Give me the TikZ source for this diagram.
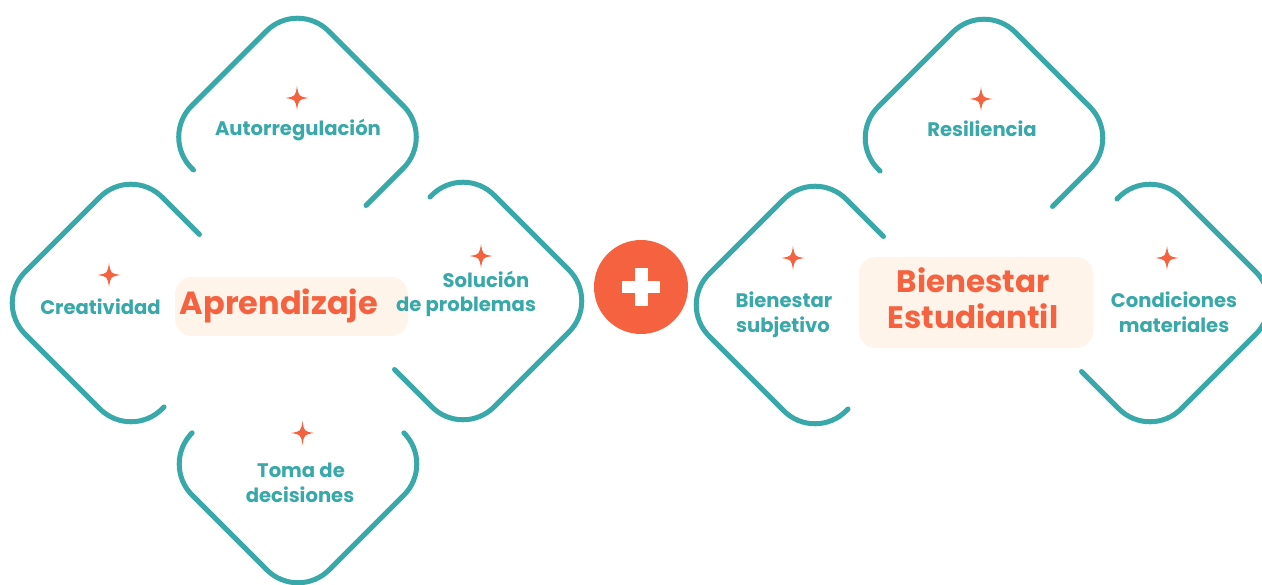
\documentclass[tikz,border=0pt]{standalone}
\usepackage{fontspec}
\setmainfont{Poppins}
\definecolor{teal1}{HTML}{38A8A9}
\definecolor{orng}{HTML}{F4623F}
\definecolor{peach}{HTML}{FFF4EA}
\tikzset{
  dia/.style={draw=teal1, line width=5pt, line cap=round, line join=round, rounded corners=44pt},
  lbl/.style={text=teal1, font=\fontsize{19.6}{25}\selectfont\bfseries, anchor=base, inner sep=0pt},
  ttl/.style={text=orng, font=\fontsize{31}{35}\selectfont\bfseries, anchor=base, inner sep=0pt},
  titlebox/.style={fill=peach, draw=none, rounded corners=17pt},
  sparkle/.pic={\fill[orng] (0,-12) .. controls (1.6,-1.6) .. (11.5,0) .. controls (1.6,1.6) .. (0,12) .. controls (-1.6,1.6) .. (-11.5,0) .. controls (-1.6,-1.6) .. cycle;}
}
\begin{document}
\begin{tikzpicture}[x=1pt, y=-1pt]
\useasboundingbox (0,0) rectangle (1262,585);
\clip (0,0) rectangle (1262,585);
\fill[white] (0,0) rectangle (1262,585);

% ---------- left cluster: Aprendizaje ----------
\draw[dia, shift={(297.5,137)}] (-104,33) -- (-137,0) -- (0,-137) -- (137,0) -- (68.5,68.5);
\draw[dia, shift={(131,303)}] (33,104) -- (0,137) -- (-137,0) -- (0,-137) -- (68.5,-68.5);
\draw[dia, shift={(463,301)}] (-33,-104) -- (0,-137) -- (137,0) -- (0,137) -- (-68.5,68.5);
\draw[dia, shift={(298,464)}] (-108,-29) -- (-137,0) -- (0,137) -- (137,0) -- (108,-29);

\fill[titlebox] (175,277) rectangle (408,336);
\node[ttl, font=\fontsize{32}{35}\selectfont\bfseries] (apr) at (279,315) {Aprendizaje};

\pic (s1) at (297,98) {sparkle};
\node[lbl] (auto) at (298,136) {Autorregulación};
\pic (s2) at (109,275) {sparkle};
\node[lbl] (crea) at (100.5,315) {Creatividad};
\pic (s3) at (481,256) {sparkle};
\node[lbl] (sol1) at (486,288) {Solución};
\node[lbl] (sol2) at (466,312) {de problemas};
\pic (s4) at (302.5,433) {sparkle};
\node[lbl] (toma1) at (301,477) {Toma de};
\node[lbl] (toma2) at (300,502) {decisiones};

% ---------- plus ----------
\node[circle, fill=orng, minimum size=94pt, inner sep=0pt] (plus) at (641,287) {};
\fill[white] (622,281) rectangle (660,293.5);
\fill[white] (635,268) rectangle (647.5,306);

% ---------- right cluster: Bienestar Estudiantil ----------
\draw[dia, shift={(984,138)}] (-104,33) -- (-137,0) -- (0,-137) -- (137,0) -- (68.5,68.5);
\draw[dia, shift={(815,305)}] (33,104) -- (0,137) -- (-137,0) -- (0,-137) -- (68.5,-68.5);
\draw[dia, shift={(1150,303)}] (-33,-104) -- (0,-137) -- (137,0) -- (0,137) -- (-68.5,68.5);

\fill[titlebox] (859,257) rectangle (1093,348);
\node[ttl] (bie1) at (973,293) {Bienestar};
\node[ttl] (bie2) at (973,329) {Estudiantil};

\pic (s5) at (981,99) {sparkle};
\node[lbl] (resi) at (982,137) {Resiliencia};
\pic (s6) at (793,258) {sparkle};
\node[lbl] (bs1) at (784,308) {Bienestar};
\node[lbl] (bs2) at (783,333) {subjetivo};
\pic (s7) at (1167,258) {sparkle};
\node[lbl] (cm1) at (1174,308) {Condiciones};
\node[lbl] (cm2) at (1174,333) {materiales};
\end{tikzpicture}
\end{document}
